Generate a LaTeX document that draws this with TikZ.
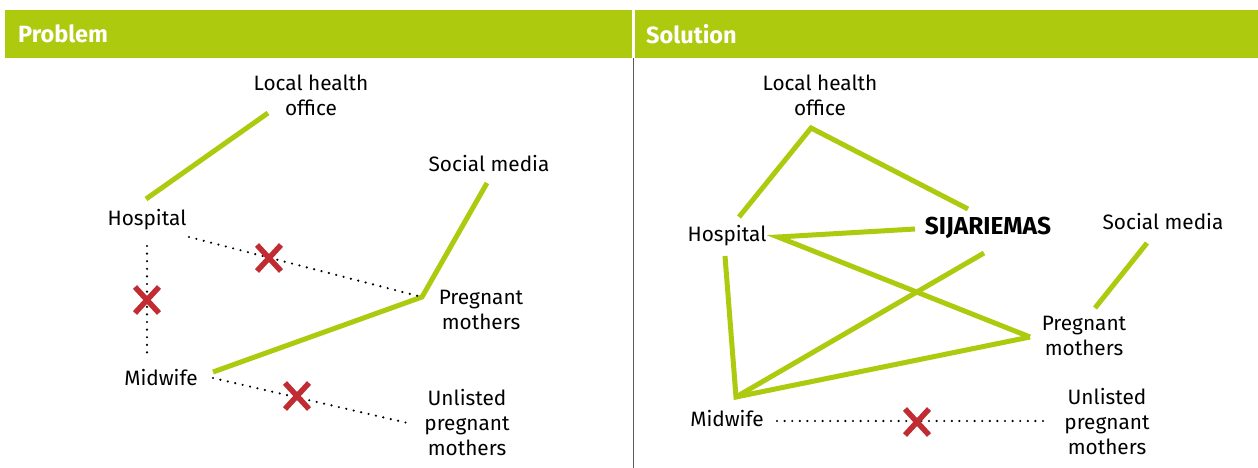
\documentclass[tikz,border=0pt]{standalone}
\usepackage{fontspec}
\setmainfont{Fira Sans}
\definecolor{lime}{RGB}{173,202,14}
\definecolor{xred}{RGB}{193,44,50}
\definecolor{divgray}{RGB}{90,90,90}
\begin{document}
\begin{tikzpicture}[x=1pt,y=-1pt,
  lbl/.style={font=\fontsize{20.8}{25}\selectfont, align=center, inner sep=0pt},
  link/.style={draw=lime, line width=5pt},
  nolink/.style={draw=black, line width=2.4pt, line cap=round, dash pattern=on 0pt off 7.6pt},
  hdrtext/.style={font=\fontsize{23.5}{26}\selectfont\bfseries, text=white, anchor=west, inner sep=0pt},
  cross/.pic={\draw[xred, line width=5.5pt] (-12,-13) -- (12,13) (-12,13) -- (12,-13);}]
\useasboundingbox (0,0) rectangle (1258,468);
% header bars
\fill[lime] (5,10) rectangle (632,58);
\fill[lime] (634.5,10) rectangle (1258,58);
\draw[divgray, line width=1.5pt] (633.3,58) -- (633.3,468);
\node[hdrtext] (hp) at (18,34) {Problem};
\node[hdrtext] (hs) at (646,34) {Solution};

% ---------- Problem ----------
\node[lbl] (pLHO) at (311,95) {Local health\\office};
\node[lbl] (pSM) at (489,164) {Social media};
\node[lbl] (pHos) at (147,220) {Hospital};
\node[lbl] (pPM) at (481,310) {Pregnant\\mothers};
\node[lbl] (pMid) at (161,378) {Midwife};
\node[lbl] (pUn) at (467,423) {Unlisted\\pregnant\\mothers};

\coordinate (pH1) at (146,199);
\coordinate (pL1) at (268,113);
\coordinate (pS1) at (487,183);
\coordinate (pP1) at (422,297);
\coordinate (pM1) at (213,372);
\coordinate (pH2) at (189,237);
\coordinate (pP2) at (418,296);
\coordinate (pH3) at (147,246);
\coordinate (pM2) at (147,357);
\coordinate (pM3) at (213,378);
\coordinate (pU1) at (412,424);

\draw[link] (pH1) -- (pL1);
\draw[link] (pS1) -- (pP1) -- (pM1);
\draw[nolink] (pH2) -- (pP2);
\draw[nolink] (pH3) -- (pM2);
\draw[nolink] (pM3) -- (pU1);
\pic at (269,258) {cross};
\pic at (147,300) {cross};
\pic at (297,396) {cross};

% ---------- Solution ----------
\node[lbl] (sLHO) at (820,95) {Local health\\office};
\node[lbl] (sHos) at (727,236) {Hospital};
\node[lbl, font=\fontsize{24.5}{26}\selectfont\bfseries] (sSJ) at (988,228) {SIJARIEMAS};
\node[lbl] (sSM) at (1163,222) {Social media};
\node[lbl] (sPM) at (1084,336) {Pregnant\\mothers};
\node[lbl] (sMid) at (727,419) {Midwife};
\node[lbl] (sUn) at (1107,422) {Unlisted\\pregnant\\mothers};

\coordinate (sL) at (811,128);
\coordinate (sH1) at (739,217);
\coordinate (sJ1) at (968,209);
\coordinate (sH2) at (778,237);
\coordinate (sJ2) at (915,229);
\coordinate (sP) at (1030,337);
\coordinate (sJ3) at (984,253);
\coordinate (sM) at (736,397);
\coordinate (sH3) at (725,256);
\coordinate (sS) at (1147,243);
\coordinate (sP2) at (1095,308);
\coordinate (sM2) at (777,421);
\coordinate (sU) at (1050,421);

\draw[link] (sH1) -- (sL) -- (sJ1);
\draw[link] (sJ2) -- (sH2) -- (sP);
\draw[link] (sH3) -- (sM) -- (sP);
\draw[link] (sM) -- (sJ3);
\draw[link] (sS) -- (sP2);
\draw[nolink] (sM2) -- (sU);
\pic at (917,422) {cross};
\end{tikzpicture}
\end{document}
